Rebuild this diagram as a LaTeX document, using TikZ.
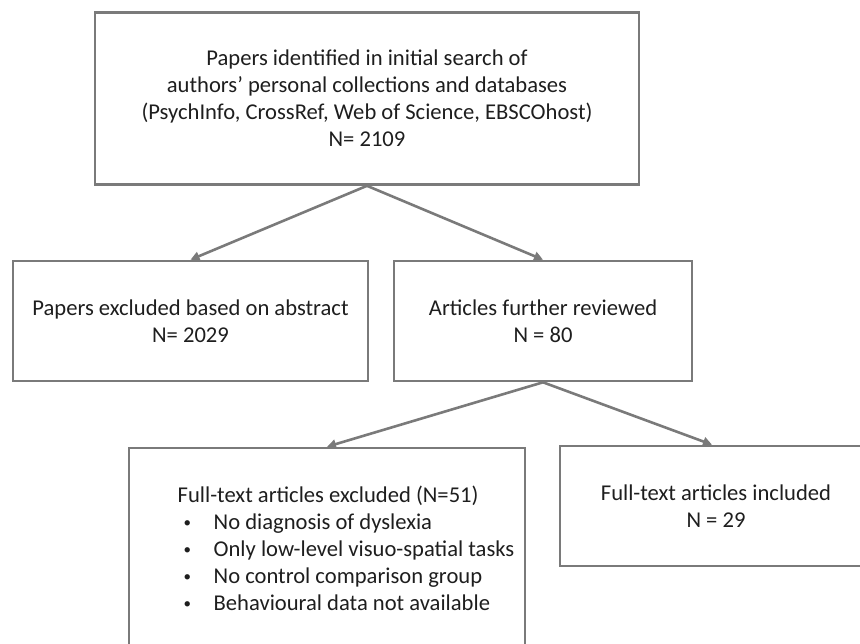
\documentclass[tikz,border=0pt]{standalone}
\usepackage{fontspec}
\setmainfont{Carlito}
\usetikzlibrary{arrows.meta, positioning}
\definecolor{colLine}{RGB}{122,122,122}
\definecolor{colText}{RGB}{30,30,30}
\newcommand{\smallbul}{\hspace*{6pt}\makebox[30pt][l]{\raisebox{1.6pt}{\fontsize{15}{15}\selectfont\textbullet}}}

\begin{document}
\begin{tikzpicture}[x=1pt, y=-1pt,
    every node/.style={font=\fontsize{22.6}{27}\selectfont, text=colText},
    box/.style={draw=colLine, line width=2.6pt, rectangle, inner sep=0pt, align=center},
    arr/.style={draw=colLine, line width=2.6pt, -{Triangle[length=9pt, width=9pt]}}]
    \useasboundingbox (0,0) rectangle (860,643);
    \clip (0,0) rectangle (860,643);

    % Search: first box
    \node[box, minimum width=544pt, minimum height=172pt] (search) at (367,98.5)
        {Papers identified in initial search of\\
         authors’ personal collections and databases\\
         (PsychInfo, CrossRef, Web of Science, EBSCOhost)\\
         N= 2109};

    % Abstract screening
    \node[box, minimum width=355pt, minimum height=120pt] (abstract) at (190.5,321)
        {Papers excluded based on abstract\\ N= 2029};
    \node[box, minimum width=298pt, minimum height=120pt] (reviewed) at (543,321)
        {Articles further reviewed\\ N = 80};

    % Full-text screening
    \node[box, minimum width=396pt, minimum height=206pt] (fullexcl) at (327,551)
        {\hspace*{38pt}\begin{tabular}{@{}l@{}}
         Full-text articles excluded (N=51)\\
         \smallbul No diagnosis of dyslexia\\
         \smallbul Only low-level visuo-spatial tasks\\
         \smallbul No control comparison group\\
         \smallbul Behavioural data not available
         \end{tabular}};
    \node[box, minimum width=304pt, minimum height=120pt] (fullincl) at (712,506)
        {\hspace*{8pt}Full-text articles included\\ \hspace*{8pt}N = 29};

    % Arrows
    \draw[arr] (search.south) -- (abstract.north);
    \draw[arr] (search.south) -- (reviewed.north);
    \draw[arr] (reviewed.south) -- (fullexcl.north);
    \draw[arr] (reviewed.south) -- (fullincl.north);
\end{tikzpicture}
\end{document}
